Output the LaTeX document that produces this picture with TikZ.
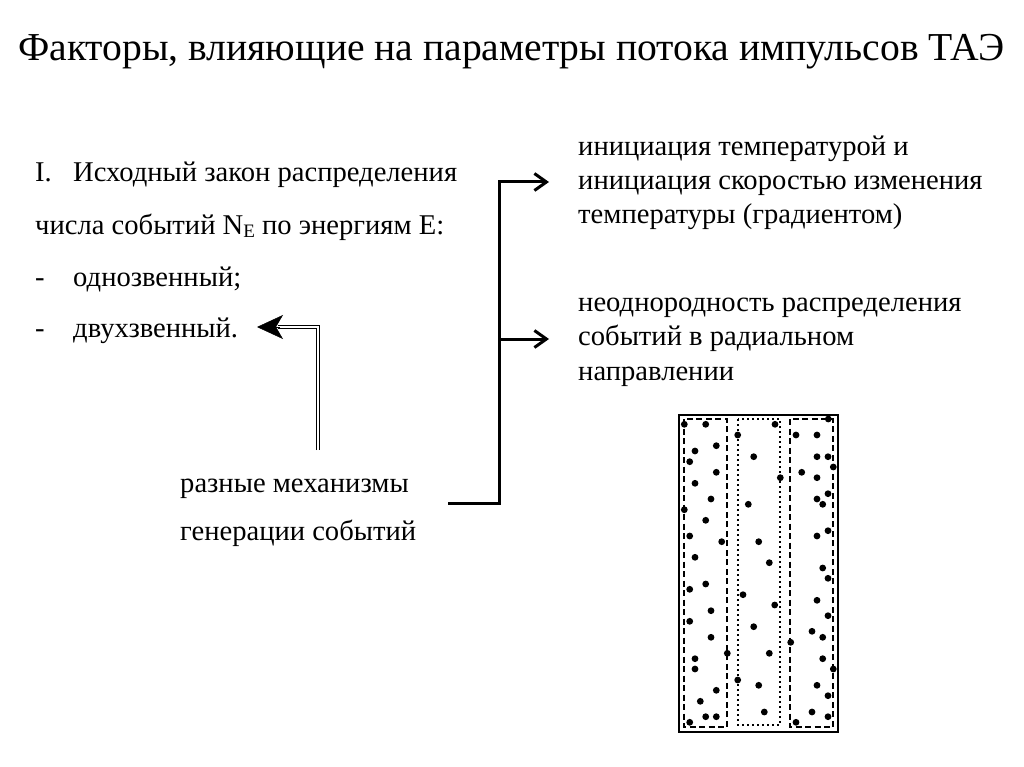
\documentclass[tikz,border=0pt]{standalone}
\usepackage{fontspec}
\setmainfont{Liberation Serif}
\usetikzlibrary{arrows.meta}
\tikzset{
  titletext/.style={anchor=base west, inner sep=0pt, font=\fontsize{39.6}{42}\selectfont},
  lefttext/.style={anchor=base west, inner sep=0pt, font=\fontsize{28.6}{32}\selectfont},
  righttext/.style={anchor=base west, inner sep=0pt, font=\fontsize{28.6}{32}\selectfont},
  flow/.style={line width=3pt, line join=miter},
  flowtip/.style={-{Straight Barb[length=12pt,width=17pt]}},
  dbl/.style={double, double distance=1.8pt, line width=0.9pt, line join=miter},
  outerbox/.style={line width=2.8pt},
  dashbox/.style={line width=1.8pt, dash pattern=on 6pt off 3.5pt},
  dotbox/.style={line width=1.8pt, dash pattern=on 1.6pt off 3.4pt},
  ev/.style={fill=black}
}
\begin{document}
\begin{tikzpicture}[x=1pt,y=-1pt]
\useasboundingbox (0,0) rectangle (1024,767);
% title
\node[titletext] (title) at (18,61) {Факторы, влияющие на параметры потока импульсов ТАЭ};
% left block
\node[lefttext] (l1a) at (35,182) {I.};
\node[lefttext] (l1) at (73,182) {Исходный закон распределения};
\node[lefttext] (l2) at (35,234) {числа событий N\raisebox{-0.25ex}{\fontsize{19}{20}\selectfont E} по энергиям E:};
\node[lefttext] (l3a) at (35,286) {-};
\node[lefttext] (l3) at (73,286) {однозвенный;};
\node[lefttext] (l4a) at (35,337) {-};
\node[lefttext] (l4) at (73,337) {двухзвенный.};
% right block
\node[righttext] (r1) at (578,156) {инициация температурой и};
\node[righttext] (r2) at (578,190) {инициация скоростью изменения};
\node[righttext] (r3) at (578,224) {температуры (градиентом)};
\node[righttext] (r4) at (578,311) {неоднородность распределения};
\node[righttext] (r5) at (578,345) {событий в радиальном};
\node[righttext] (r6) at (578,380) {направлении};
% bottom middle
\node[lefttext] (m1) at (180,492) {разные механизмы};
\node[lefttext] (m2) at (180,540) {генерации событий};
% flow arrows
\coordinate (s) at (448,503);
\coordinate (c1) at (499,503);
\coordinate (c2) at (499,182);
\coordinate (a1) at (549,182);
\coordinate (b) at (499,339);
\coordinate (a2) at (549,339);
\draw[flow, flowtip] (s) -- (c1) -- (c2) -- (a1);
\draw[flow, flowtip] (b) -- (a2);
% double arrow
\coordinate (d0) at (318,450);
\coordinate (d1) at (318,327);
\coordinate (d2) at (278,327);
\coordinate (dh) at (280,327);
\coordinate (dt) at (257,327);
\draw[dbl] (d0) -- (d1) -- (d2);
\draw[line width=0.5pt, -{Stealth[length=26pt,width=24pt,inset=7pt]}] (dh) -- (dt);
% box
\draw[outerbox] (679,415) rectangle (838,732);
\draw[dashbox] (684,419) rectangle (727,727);
\draw[dotbox] (738,419) rectangle (780,725);
\draw[dashbox] (790,419) rectangle (833,727);
% events
\foreach \x/\y in {
684.3/424.3, 705.7/424.3, 775/424.3, 828.3/419, 737.7/435, 796/435, 817/435,
716.3/445.7, 695/451, 689.7/461.7, 753.7/456.7, 817/456.7, 828/456.7, 833.3/467,
716.3/472.3, 801.7/472.3, 695/483.3, 780.3/477.7, 817/477.7, 828/493.7, 817/499,
822.7/504.3, 711/499, 748.3/504.3, 684.3/509.7, 705.7/520.3,
689.7/536, 721.7/541.7, 758.7/541.7, 817/536, 828/530.7, 695/557.3, 769.3/562.7,
822.7/568, 828/578.3, 705.7/584, 689.7/589.3, 743/594.7, 817/600.3, 774.7/605,
711/610.7, 828/615.7, 689.7/621.3, 753.7/626.7, 812/631.3,
822.7/637.3, 711/637.3, 790.7/642.3, 695/658.7, 727.3/653.3, 769.3/653.3,
822.7/658.7, 695/669, 833.3/669, 737.7/680, 758.7/685.3, 817/685.3, 716.3/690.3,
828/695.7, 700.3/701.3, 764.3/712, 812/712, 705.7/716.7, 716.3/716.7, 828/716.7,
689.7/722.3, 796/722.3}
  \fill[ev] (\x,\y) circle (3.4);
\end{tikzpicture}
\end{document}
